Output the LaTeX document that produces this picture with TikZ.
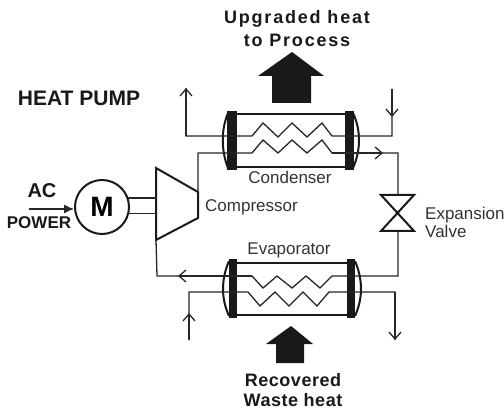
\documentclass[tikz,border=0pt]{standalone}
\usepackage{fontspec}
\setmainfont{Liberation Sans}
\usetikzlibrary{arrows.meta}

\tikzset{
  pipe/.style={line width=1.3pt,draw=black!85},
  flow/.style={pipe,-{Straight Barb[length=7pt,width=12pt,line width=1.3pt]}},
  shell/.style={line width=2.2pt,draw=black!90},
  flange/.style={fill=black!90,draw=none},
  bulge/.style={line width=2pt,draw=black!90},
  blockarrow/.style={fill=black!90,draw=none},
  title/.style={font=\bfseries\fontsize{18}{23}\selectfont,align=center,text=black!90,inner sep=0pt},
  tag/.style={font=\fontsize{17}{18}\selectfont,align=left,text=black!80,inner sep=0pt},
}

\begin{document}
\begin{tikzpicture}[x=1pt,y=-1pt]
\useasboundingbox (0,0) rectangle (504,409);

% labels
\path (297,29) node (upgraded) [title] {\addfontfeature{LetterSpace=10}Upgraded heat\\\addfontfeature{LetterSpace=10}to Process};
\path (79,98) node (heatpump) [title,font=\bfseries\fontsize{21}{24}\selectfont] {HEAT PUMP};
\path (293,390) node (recovered) [title,font=\bfseries\fontsize{18}{20}\selectfont] {\addfontfeature{LetterSpace=3}Recovered\\\addfontfeature{LetterSpace=3}Waste heat};
\path (42,191) node (ac) [title,font=\bfseries\fontsize{20}{24}\selectfont] {AC};
\path (39,223) node (power) [title,font=\bfseries\fontsize{17}{24}\selectfont] {POWER};
\path (290,177) node (condenser) [tag] {Condenser};
\path (289,250) node (evaporator) [tag] {Evaporator};
\path (205,207) node (compressor) [tag,anchor=west] {Compressor};
\path (425,222) node (expansion) [tag,anchor=west] {Expansion\\Valve};

% motor
\path (102,207) node (motor) [shape=circle,minimum size=54pt,inner sep=0pt,line width=2pt,draw=black!90,
  font=\bfseries\fontsize{28}{28}\selectfont] {M};
\path (29,209) coordinate (acin);
\draw[pipe,-{Latex[length=10pt,width=9pt]}] (acin) -- (motor.west |- acin);

% compressor
\path (156,168) coordinate (compTL);
\path (198,192) coordinate (compTR);
\path (198,218) coordinate (compBR);
\path (156,240) coordinate (compBL);
\draw[line width=2pt,draw=black!90,line join=miter] (compTL) -- (compTR) -- (compBR) -- (compBL) -- cycle;
\draw[pipe] (motor.19) -- (motor.19 -| compTL);
\draw[pipe] (motor.-13) -- (motor.-13 -| compTL);

% valve
\path (398,213) node (valve) [inner sep=0pt,minimum size=2pt] {};
\path (381,195) coordinate (valveTL);
\path (414,195) coordinate (valveTR);
\path (381,231) coordinate (valveBL);
\path (414,231) coordinate (valveBR);
\draw[line width=2pt,draw=black!90,line join=miter] (valveTL) -- (valveTR) -- (valveBL) -- (valveBR) -- cycle;

% condenser
\draw[shell] (237,114) -- (345,114);
\draw[shell] (237,167) -- (345,167);
\fill[flange] (227,111) rectangle (237,170);
\fill[flange] (345,111) rectangle (354,170);
\draw[bulge] (228,113) .. controls (221,130) and (221,150) .. (228,168);
\draw[bulge] (353,113) .. controls (361,130) and (361,150) .. (353,168);

% evaporator
\draw[shell] (237,263) -- (347,263);
\draw[shell] (237,315) -- (347,315);
\fill[flange] (229,259) rectangle (237,318);
\fill[flange] (347,259) rectangle (355,318);
\draw[bulge] (229,261) .. controls (221,280) and (221,298) .. (229,316);
\draw[bulge] (355,261) .. controls (363,280) and (363,298) .. (355,316);

% circuit pipes
\path (186,88) coordinate (condOutEnd);
\path (392,89) coordinate (condInEnd);
\path (392,117) coordinate (condInTip);
\path (189,340) coordinate (evapInEnd);
\path (189,313) coordinate (evapInTip);
\path (395,340) coordinate (evapOutEnd);
\path (383,153) coordinate (hotTip);
\path (178,276) coordinate (coldTip);

\draw[pipe] (condInEnd) -- (392,136) -- (332,136) -- (322,123) -- (307,137) -- (292,123) -- (278,137) -- (263,123) -- (252,136) -- (186,136) -- (condOutEnd);
\draw[flow] (186,136) -- (condOutEnd);
\draw[flow] (condInEnd) -- (condInTip);

\draw[pipe] (compTR) -- (198,153) -- (252,153) -- (263,140) -- (278,153) -- (292,140) -- (307,153) -- (322,140) -- (332,153) -- (398,153) -- (valveTL -| valve);
\draw[flow] (332,153) -- (hotTip);

\draw[pipe] (valveBL -| valve) -- (398,276) -- (332,276) -- (320,288) -- (306,276) -- (292,288) -- (277,276) -- (263,288) -- (252,276) -- (157,276) -- (compBL);
\draw[flow] (252,276) -- (coldTip);

\draw[pipe] (evapInEnd) -- (189,292) -- (248,292) -- (260,306) -- (275,292) -- (289,306) -- (303,292) -- (317,306) -- (329,292) -- (395,292) -- (evapOutEnd);
\draw[flow] (evapInEnd) -- (evapInTip);
\draw[flow] (395,292) -- (evapOutEnd);

% block arrows
\fill[blockarrow] (292,52) -- (324,76) -- (311,76) -- (311,103) -- (272,103) -- (272,76) -- (258,76) -- cycle;
\fill[blockarrow] (291,326) -- (313,344) -- (304,344) -- (304,363) -- (276,363) -- (276,344) -- (266,344) -- cycle;

\end{tikzpicture}
\end{document}
